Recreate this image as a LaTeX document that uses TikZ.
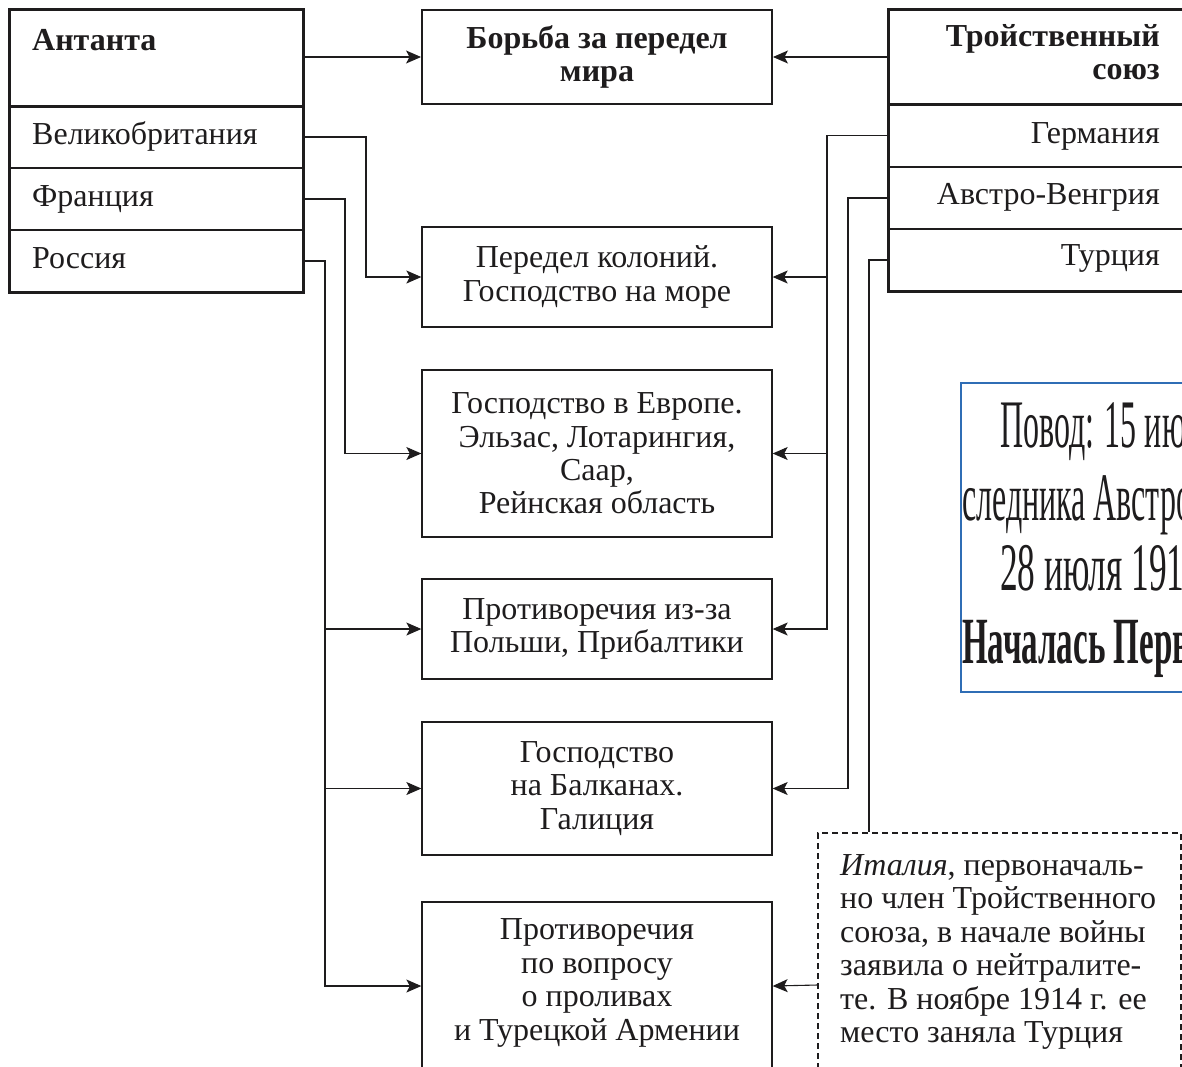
\documentclass[tikz,border=0pt]{standalone}
\usepackage{fontspec}
\setmainfont{Liberation Serif}
\usetikzlibrary{arrows.meta}
\definecolor{ink}{HTML}{1E1C1D}
\definecolor{blueframe}{HTML}{2F6DB5}
\begin{document}
\begin{tikzpicture}[x=1pt,y=-1pt,
  txt/.style={font=\fontsize{32}{33.4}\selectfont, text=ink, inner sep=0pt},
  frame/.style={draw=ink, line width=1.3pt, inner sep=0pt},
  heavy/.style={draw=ink, line width=1.9pt},
  conn/.style={draw=ink, line width=1.1pt},
  arr/.style={conn, -{Stealth[length=15pt,width=13pt,inset=3.5pt]}},
  bluetxt/.style={text=ink, inner sep=0pt, anchor=base west}
]
\useasboundingbox (0,0) rectangle (1182,1066);
\clip (0,0) rectangle (1182,1066);

% ---------- left block: Entente ----------
\node[frame, minimum width=293pt, minimum height=96pt] (antH) at (156.5,58) {};
\node[frame, minimum width=293pt, minimum height=62pt] (gb) at (156.5,137) {};
\node[frame, minimum width=293pt, minimum height=62pt] (fr) at (156.5,199) {};
\node[frame, minimum width=293pt, minimum height=62pt] (ru) at (156.5,261) {};
\draw[heavy] (antH.north west) rectangle (ru.south east);
\draw[heavy] (antH.south west) -- (antH.south east);
\node[txt, anchor=base west] (antT) at (32,50) {\bfseries Антанта};
\node[txt, anchor=base west] (gbT) at (32,144) {Великобритания};
\node[txt, anchor=base west] (frT) at (32,206) {Франция};
\node[txt, anchor=base west] (ruT) at (32,268) {Россия};

% ---------- right block: Triple Alliance ----------
\node[frame, minimum width=316pt, minimum height=94pt] (tsH) at (1047,57) {};
\node[frame, minimum width=316pt, minimum height=63pt] (ge) at (1047,135.5) {};
\node[frame, minimum width=316pt, minimum height=62pt] (av) at (1047,198) {};
\node[frame, minimum width=316pt, minimum height=62pt] (tu) at (1047,260) {};
\draw[heavy] (tsH.north west) rectangle (tu.south east);
\draw[heavy] (tsH.south west) -- (tsH.south east);
\node[txt, anchor=east, align=right, font=\fontsize{32}{33.4}\bfseries\selectfont] (tsT) at (1160,52) {Тройственный\\союз};
\node[txt, anchor=base east] (geT) at (1160,143) {Германия};
\node[txt, anchor=base east] (avT) at (1160,204) {Австро-Венгрия};
\node[txt, anchor=base east] (tuT) at (1160,265) {Турция};

% ---------- central column ----------
\node[frame, line width=1.9pt, minimum width=350pt, minimum height=94pt, align=center,
      font=\fontsize{32}{33.4}\bfseries\selectfont, text=ink] (fight) at (597,57) {Борьба за передел\\мира};
\node[frame, txt, minimum width=350pt, minimum height=100pt, align=center] (b1) at (597,277) {Передел колоний.\\Господство на море};
\node[frame, txt, minimum width=350pt, minimum height=167pt, align=center] (b2) at (597,453.5) {Господство в Европе.\\Эльзас, Лотарингия,\\Саар,\\Рейнская область};
\node[frame, txt, minimum width=350pt, minimum height=100pt, align=center] (b3) at (597,629) {Противоречия из-за\\Польши, Прибалтики};
\node[frame, txt, minimum width=350pt, minimum height=133pt, align=center] (b4) at (597,788.5) {Господство\\на Балканах.\\Галиция};
\node[frame, minimum width=350pt, minimum height=168pt] (b5) at (597,986) {};
\node[txt, align=center] (b5T) at (597,983) {Противоречия\\по вопросу\\о проливах\\и Турецкой Армении};

% ---------- Italy note ----------
\node[draw=ink, line width=1.3pt, dash pattern=on 6pt off 4pt, minimum width=363pt, minimum height=304pt, inner sep=0pt] (ital) at (999.5,985) {};
\node[txt, anchor=west, align=left] (italT) at (840,952) {\textit{Италия}, первоначаль-\\но член Тройственного\\союза, в начале войны\\заявила о нейтралите-\\те. В ноябре 1914 г. ее\\место заняла Турция};

% ---------- blue frame (cut off) ----------
\node[draw=blueframe, line width=1.8pt, minimum width=278pt, minimum height=309pt, inner sep=0pt] (blue) at (1100,537.5) {};
\node[bluetxt] (bl1) at (1000,447) {\scalebox{0.47}[1]{\fontsize{68}{68}\selectfont Повод: 15 июня}};
\node[bluetxt] (bl2) at (962,520) {\scalebox{0.47}[1]{\fontsize{68}{68}\selectfont следника Австро-}};
\node[bluetxt] (bl3) at (1000,590) {\scalebox{0.52}[1]{\fontsize{68}{68}\selectfont 28 июля 1914}};
\node[bluetxt] (bl4) at (962,663) {\scalebox{0.5}[1]{\fontsize{66}{66}\bfseries\selectfont Началась Первая}};

% ---------- connectors ----------
\draw[arr] (fight.west -| antH.east) -- (fight.west);
\draw[arr] (fight.east -| tsH.west) -- (fight.east);

\coordinate (gbX) at (366,137);
\coordinate (frX) at (345,199);
\coordinate (ruX) at (325,261);
\draw[arr] (gb.east) -- (gbX) |- (b1.west);
\draw[arr] (fr.east) -- (frX) |- (b2.west);
\draw[arr] (ru.east) -- (ruX) |- (b5.west);
\draw[arr] (ruX |- b3.west) -- (b3.west);
\draw[arr] (ruX |- b4.west) -- (b4.west);

\coordinate (geX) at (827,135.5);
\coordinate (avX) at (848,198);
\coordinate (tuX) at (869,260);
\draw[arr] (ge.west) -- (geX) |- (b3.east);
\draw[arr] (geX |- b1.east) -- (b1.east);
\draw[arr] (geX |- b2.east) -- (b2.east);
\draw[arr] (av.west) -- (avX) |- (b4.east);
\draw[conn] (tu.west) -- (tuX) -- (tuX |- ital.north);
\draw[arr] (ital.west) -- (b5.east);
\end{tikzpicture}
\end{document}
